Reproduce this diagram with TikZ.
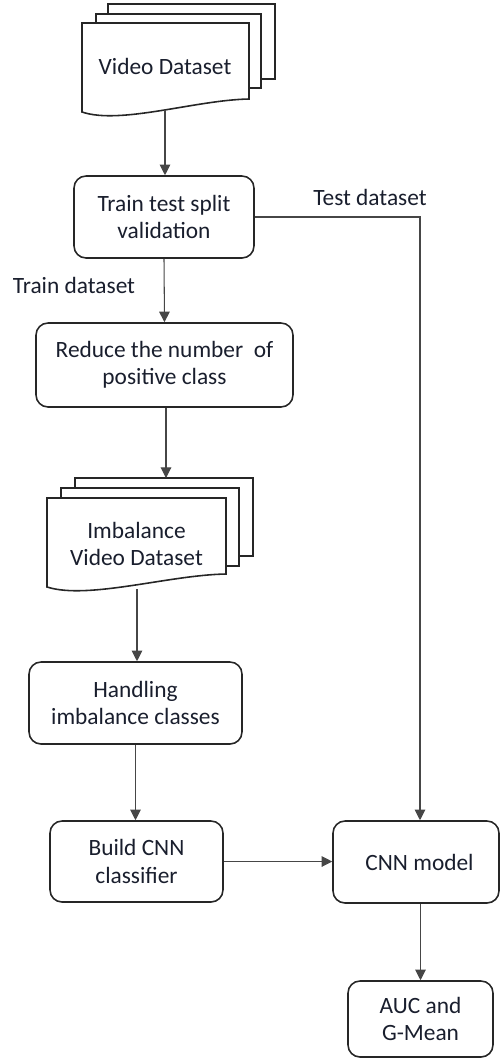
\documentclass[tikz,border=0pt]{standalone}
\usepackage{fontspec}
\setmainfont{Carlito}
\usepackage{xcolor}
\definecolor{textdark}{RGB}{25,30,45}
\definecolor{linegray}{RGB}{70,70,70}
\usepackage{tikz}
\usetikzlibrary{calc,positioning,arrows.meta}

% one page of a document stack (left, top, right, bottom left)
\newcommand{\docpage}[4]{%
  \filldraw[page] (#1,#2) -- (#3,#2) -- (#3,{#4-13})
    .. controls ({#1+0.68*(#3-#1)},{#4-12}) and ({#1+0.23*(#3-#1)},{#4+13}) .. (#1,#4) -- cycle;}

\begin{document}
\begin{tikzpicture}[x=0.02cm,y=-0.02cm,
        font=\fontsize{13.3}{15.5}\selectfont,text=textdark,
        page/.style={draw=black!85,fill=white,line width=0.9pt},
        stepbox/.style={draw=black!85,line width=0.9pt,rounded corners=0.24cm,
            align=center,inner sep=2pt},
        flow/.style={draw=linegray,line width=0.6pt,
            -{Triangle[length=6pt,width=6pt]}}]
        % Bounds
        \useasboundingbox (0,0) rectangle (500,1059);
        % Video dataset stack
        \filldraw[page] (108,4) rectangle (275,79);
        \filldraw[page] (96,14) rectangle (261,88);
        \docpage{82}{23}{249}{112}
        \node (vd) at (165,66) {Video Dataset};
        \coordinate (vdout) at (165,110);
        % Steps
        \node[stepbox,minimum width=3.6cm,minimum height=1.64cm] (split) at (164,217)
            {Train test split\\validation};
        \node[stepbox,minimum width=5.14cm,minimum height=1.68cm] (reduce) at (164.5,365)
            {Reduce the number \ of\\positive class};
        % Imbalance dataset stack
        \filldraw[page] (75,478) rectangle (253,556);
        \filldraw[page] (61,488) rectangle (239,566);
        \docpage{47}{498}{226}{587}
        \node[align=center] (ivd) at (136.5,544) {Imbalance\\Video Dataset};
        \coordinate (ivdin) at (166,478);
        \coordinate (ivdout) at (137,589);
        \node[stepbox,minimum width=4.26cm,minimum height=1.64cm] (handle) at (135.5,703)
            {Handling\\imbalance classes};
        \node[stepbox,minimum width=3.46cm,minimum height=1.62cm] (build) at (136.5,861.5)
            {Build CNN\\classifier};
        \node[stepbox,minimum width=3.32cm,minimum height=1.64cm] (cnn) at (416,862)
            {\hspace{4pt}CNN model};
        \node[stepbox,minimum width=2.9cm,minimum height=1.52cm] (auc) at (420.5,1019)
            {AUC and\\G-Mean};
        % Labels
        \node (testlbl) at (370,197) {Test dataset};
        \node (trainlbl) at (74,285) {Train dataset};
        \coordinate (tcorner) at (420,217);
        % Connectors
        \draw[flow] (vdout) -- (vdout |- split.north);
        \draw[flow] (split.south) -- (reduce.north);
        \draw[flow] (ivdin |- reduce.south) -- (ivdin);
        \draw[flow] (ivdout) -- (ivdout |- handle.north);
        \draw[flow] (handle.south) -- (handle.south |- build.north);
        \draw[flow] (build.east) -- (build.east -| cnn.west);
        \draw[flow] (split.east) -- (tcorner) -- (tcorner |- cnn.north);
        \draw[flow] (auc.north |- cnn.south) -- (auc.north);
    \end{tikzpicture}
\end{document}
